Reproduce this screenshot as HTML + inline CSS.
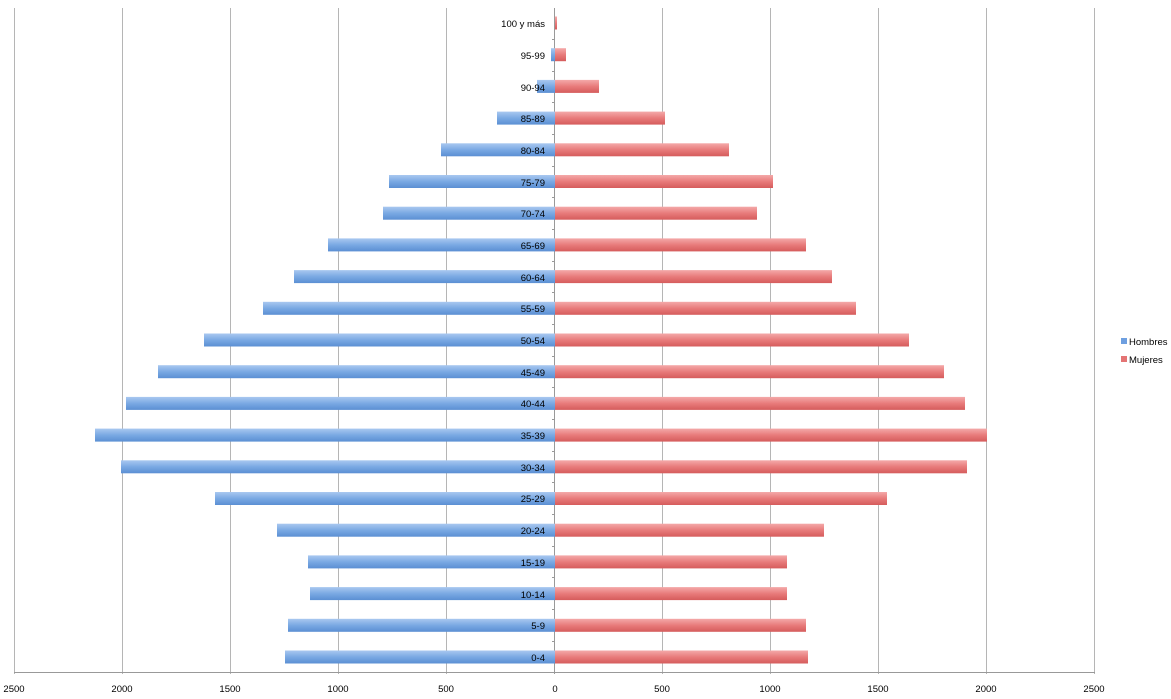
<!DOCTYPE html>
<html><head><meta charset="utf-8"><style>
html,body{margin:0;padding:0;background:#fff;}
svg{display:block;font-family:"Liberation Sans",sans-serif;}
</style></head><body>
<svg width="1171" height="699" viewBox="0 0 1171 699" xmlns="http://www.w3.org/2000/svg">
<defs>
<linearGradient id="b" x1="0" y1="0" x2="0" y2="1"><stop offset="0" stop-color="#a9c8f0"/><stop offset="0.5" stop-color="#7aa9e3"/><stop offset="1" stop-color="#5b8fd3"/></linearGradient>
<linearGradient id="r" x1="0" y1="0" x2="0" y2="1"><stop offset="0" stop-color="#f4a9a9"/><stop offset="0.5" stop-color="#e87b7b"/><stop offset="1" stop-color="#d55c5c"/></linearGradient>
</defs>
<g stroke="#b5b5b5" stroke-width="1">
<line x1="14.5" y1="8" x2="14.5" y2="674"/>
<line x1="122.5" y1="8" x2="122.5" y2="674"/>
<line x1="230.5" y1="8" x2="230.5" y2="674"/>
<line x1="338.5" y1="8" x2="338.5" y2="674"/>
<line x1="446.5" y1="8" x2="446.5" y2="674"/>
<line x1="662.5" y1="8" x2="662.5" y2="674"/>
<line x1="770.5" y1="8" x2="770.5" y2="674"/>
<line x1="878.5" y1="8" x2="878.5" y2="674"/>
<line x1="986.5" y1="8" x2="986.5" y2="674"/>
<line x1="1094.5" y1="8" x2="1094.5" y2="674"/>
<line x1="14" y1="672.5" x2="1095" y2="672.5" stroke="#999"/>
<line x1="554.5" y1="8" x2="554.5" y2="674" stroke="#999"/>
</g>
<g stroke="#999" stroke-width="1">
<line x1="552" y1="641.5" x2="555" y2="641.5"/><line x1="552" y1="609.5" x2="555" y2="609.5"/>
<line x1="552" y1="577.5" x2="555" y2="577.5"/><line x1="552" y1="546.5" x2="555" y2="546.5"/>
<line x1="552" y1="514.5" x2="555" y2="514.5"/><line x1="552" y1="482.5" x2="555" y2="482.5"/>
<line x1="552" y1="451.5" x2="555" y2="451.5"/><line x1="552" y1="419.5" x2="555" y2="419.5"/>
<line x1="552" y1="387.5" x2="555" y2="387.5"/><line x1="552" y1="356.5" x2="555" y2="356.5"/>
<line x1="552" y1="324.5" x2="555" y2="324.5"/><line x1="552" y1="292.5" x2="555" y2="292.5"/>
<line x1="552" y1="261.5" x2="555" y2="261.5"/><line x1="552" y1="229.5" x2="555" y2="229.5"/>
<line x1="552" y1="197.5" x2="555" y2="197.5"/><line x1="552" y1="166.5" x2="555" y2="166.5"/>
<line x1="552" y1="134.5" x2="555" y2="134.5"/><line x1="552" y1="102.5" x2="555" y2="102.5"/>
<line x1="552" y1="71.5" x2="555" y2="71.5"/><line x1="552" y1="39.5" x2="555" y2="39.5"/>
</g>
<g fill="url(#b)">
<rect x="285" y="650.5" width="270" height="13"/>
<rect x="288" y="618.8" width="267" height="13"/>
<rect x="310" y="587.1" width="245" height="13"/>
<rect x="308" y="555.4" width="247" height="13"/>
<rect x="277" y="523.7" width="278" height="13"/>
<rect x="215" y="492" width="340" height="13"/>
<rect x="121" y="460.3" width="434" height="13"/>
<rect x="95" y="428.6" width="460" height="13"/>
<rect x="126" y="396.9" width="429" height="13"/>
<rect x="158" y="365.2" width="397" height="13"/>
<rect x="204" y="333.5" width="351" height="13"/>
<rect x="263" y="301.8" width="292" height="13"/>
<rect x="294" y="270.1" width="261" height="13"/>
<rect x="328" y="238.4" width="227" height="13"/>
<rect x="383" y="206.7" width="172" height="13"/>
<rect x="389" y="175" width="166" height="13"/>
<rect x="441" y="143.3" width="114" height="13"/>
<rect x="497" y="111.6" width="58" height="13"/>
<rect x="537" y="79.9" width="18" height="13"/>
<rect x="551" y="48.2" width="4" height="13"/>
</g>
<g fill="url(#r)">
<rect x="555" y="650.5" width="253" height="13"/>
<rect x="555" y="618.8" width="251" height="13"/>
<rect x="555" y="587.1" width="232" height="13"/>
<rect x="555" y="555.4" width="232" height="13"/>
<rect x="555" y="523.7" width="269" height="13"/>
<rect x="555" y="492" width="332" height="13"/>
<rect x="555" y="460.3" width="412" height="13"/>
<rect x="555" y="428.6" width="432" height="13"/>
<rect x="555" y="396.9" width="410" height="13"/>
<rect x="555" y="365.2" width="389" height="13"/>
<rect x="555" y="333.5" width="354" height="13"/>
<rect x="555" y="301.8" width="301" height="13"/>
<rect x="555" y="270.1" width="277" height="13"/>
<rect x="555" y="238.4" width="251" height="13"/>
<rect x="555" y="206.7" width="202" height="13"/>
<rect x="555" y="175" width="218" height="13"/>
<rect x="555" y="143.3" width="174" height="13"/>
<rect x="555" y="111.6" width="110" height="13"/>
<rect x="555" y="79.9" width="44" height="13"/>
<rect x="555" y="48.2" width="11" height="13"/>
<rect x="555" y="16.5" width="2" height="13"/>
</g>
<g font-size="9.5" fill="#000" text-anchor="end">
<text x="545" y="661">0-4</text>
<text x="545" y="629">5-9</text>
<text x="545" y="598">10-14</text>
<text x="545" y="566">15-19</text>
<text x="545" y="534">20-24</text>
<text x="545" y="502">25-29</text>
<text x="545" y="471">30-34</text>
<text x="545" y="439">35-39</text>
<text x="545" y="407">40-44</text>
<text x="545" y="376">45-49</text>
<text x="545" y="344">50-54</text>
<text x="545" y="312">55-59</text>
<text x="545" y="281">60-64</text>
<text x="545" y="249">65-69</text>
<text x="545" y="217">70-74</text>
<text x="545" y="186">75-79</text>
<text x="545" y="154">80-84</text>
<text x="545" y="122">85-89</text>
<text x="545" y="91">90-94</text>
<text x="545" y="59">95-99</text>
<text x="545" y="27">100 y más</text>
</g>
<g font-size="9.5" fill="#000" text-anchor="middle">
<text x="14" y="692">2500</text>
<text x="122" y="692">2000</text>
<text x="230" y="692">1500</text>
<text x="338" y="692">1000</text>
<text x="446" y="692">500</text>
<text x="555" y="692">0</text>
<text x="662" y="692">500</text>
<text x="770" y="692">1000</text>
<text x="878" y="692">1500</text>
<text x="986" y="692">2000</text>
<text x="1094" y="692">2500</text>
</g>
<rect x="1121" y="338" width="6" height="6" fill="#6e9fe0"/>
<text x="1129" y="345" font-size="9.5">Hombres</text>
<rect x="1121" y="356" width="6" height="6" fill="#e47474"/>
<text x="1129" y="363" font-size="9.5">Mujeres</text>
</svg>
</body></html>
